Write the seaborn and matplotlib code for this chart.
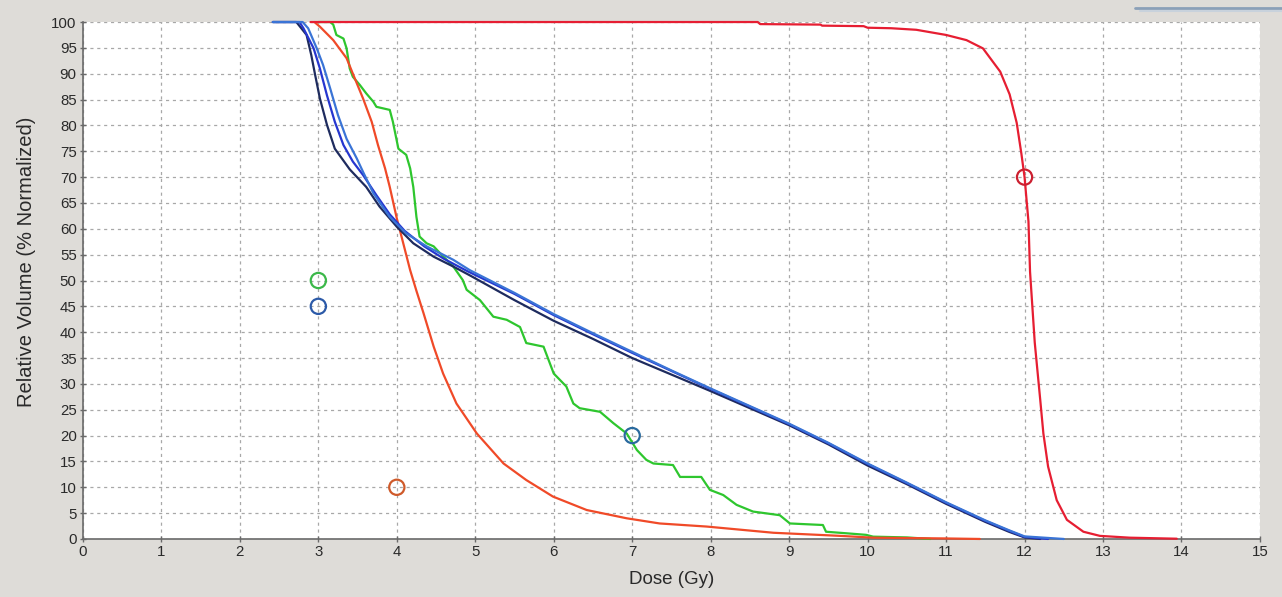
import numpy as np
import pandas as pd
import matplotlib
matplotlib.use("Agg")
import matplotlib.pyplot as plt
from matplotlib.lines import Line2D
import seaborn as sns

# Cumulative dose-volume histograms: dose (Gy) vs relative volume (%)
dose_target = [2.9, 8.6, 8.63, 9.4, 9.42, 9.95, 10.0, 10.3, 10.62, 11.0, 11.26, 11.47,
               11.69, 11.81, 11.9, 11.96, 12.0, 12.05, 12.07, 12.13, 12.2, 12.24, 12.3,
               12.41, 12.54, 12.75, 12.96, 13.34, 13.94]
vol_target = [100, 100, 99.6, 99.5, 99.3, 99.2, 98.9, 98.8, 98.5, 97.5, 96.5, 94.9,
              90.4, 86.0, 80.5, 74.5, 70.0, 61.4, 51.7, 38.0, 26.9, 20.4, 14.0,
              7.5, 3.7, 1.4, 0.6, 0.25, 0.05]

dose_orange = [2.95, 3.02, 3.19, 3.36, 3.44, 3.57, 3.68, 3.76, 3.85, 3.91, 4.0, 4.06,
               4.17, 4.25, 4.34, 4.47, 4.59, 4.76, 5.02, 5.36, 5.65, 5.99, 6.42, 6.93,
               7.35, 7.95, 8.8, 9.65, 10.07, 11.0, 11.43]
vol_orange = [100, 99.1, 96.5, 93.0, 90.0, 85.2, 80.7, 76.2, 71.7, 68.1, 62.0, 58.5,
              52.0, 48.0, 43.7, 37.2, 32.0, 26.2, 20.4, 14.6, 11.4, 8.2, 5.6, 4.0,
              3.0, 2.4, 1.2, 0.6, 0.25, 0.1, 0.0]

dose_green = [3.0, 3.15, 3.19, 3.23, 3.32, 3.36, 3.40, 3.44, 3.53, 3.61, 3.70, 3.74,
              3.91, 3.95, 4.02, 4.12, 4.17, 4.21, 4.25, 4.29, 4.38, 4.47, 4.55, 4.72,
              4.84, 4.89, 5.06, 5.23, 5.40, 5.57, 5.65, 5.87, 5.95, 6.0, 6.16, 6.25,
              6.33, 6.59, 6.76, 6.93, 7.06, 7.18, 7.27, 7.52, 7.61, 7.88, 7.99, 8.16,
              8.33, 8.54, 8.88, 9.01, 9.43, 9.47, 9.73, 9.98, 10.07, 10.5, 10.8]
vol_green = [100, 100, 99.5, 97.5, 96.8, 94.9, 91.0, 89.4, 87.8, 86.2, 84.6, 83.6,
             83.0, 80.7, 75.5, 74.3, 71.7, 68.1, 62.3, 58.5, 57.2, 56.6, 55.3, 52.7,
             50.1, 48.2, 46.2, 43.0, 42.4, 41.0, 37.9, 37.2, 34.0, 32.0, 29.5, 26.2,
             25.3, 24.6, 22.4, 20.4, 17.2, 15.3, 14.6, 14.3, 12.0, 12.0, 9.5, 8.5,
             6.6, 5.3, 4.6, 3.0, 2.7, 1.4, 1.1, 0.8, 0.45, 0.3, 0.0]

dose_navy = [2.42, 2.72, 2.85, 2.91, 2.96, 3.02, 3.11, 3.21, 3.40, 3.61, 3.78, 4.0,
             4.21, 4.47, 4.72, 4.93, 5.5, 6.0, 6.5, 7.0, 7.5, 8.0, 8.5, 9.0, 9.5,
             10.0, 10.5, 11.0, 11.5, 11.8, 12.0, 12.2]
vol_navy = [100, 100, 97.5, 93.6, 89.7, 85.2, 80.1, 75.5, 71.5, 68.1, 64.3, 60.4,
            57.2, 54.6, 52.7, 51.0, 46.2, 42.2, 38.7, 35.0, 31.8, 28.6, 25.3, 22.0, 18.3,
            14.2, 10.6, 6.8, 3.3, 1.4, 0.3, 0.0]

dose_blue = [2.42, 2.76, 2.81, 2.94, 3.02, 3.11, 3.21, 3.32, 3.44, 3.57, 3.74, 3.91,
             4.1, 4.35, 4.6, 4.9, 5.5, 6.0, 6.5, 7.0, 7.5, 8.0, 8.5, 9.0, 9.5, 10.0,
             10.5, 11.0, 11.5, 11.8, 12.0, 12.3]
vol_blue = [100, 100, 98.8, 94.9, 91.0, 85.8, 80.7, 76.2, 73.0, 70.4, 66.5, 62.8,
            59.6, 56.6, 54.2, 51.8, 47.4, 43.3, 39.6, 36.0, 32.5, 29.0, 25.6, 22.2, 18.5,
            14.5, 10.8, 7.0, 3.5, 1.6, 0.4, 0.0]

dose_light = [2.42, 2.8, 2.87, 2.98, 3.06, 3.15, 3.25, 3.36, 3.49, 3.57, 3.70, 3.91,
              4.12, 4.38, 4.72, 4.93, 5.5, 6.0, 6.5, 7.0, 7.5, 8.0, 8.5, 9.0, 9.5,
              10.0, 10.5, 11.0, 11.5, 11.8, 12.0, 12.5]
vol_light = [100, 100, 98.8, 94.9, 91.7, 87.2, 82.0, 77.4, 73.6, 71.0, 66.9, 62.3,
             59.1, 56.6, 54.0, 52.0, 47.6, 43.5, 39.8, 36.2, 32.6, 29.1, 25.7, 22.3,
             18.6, 14.6, 10.9, 7.1, 3.6, 1.7, 0.5, 0.0]

# Dose-volume constraint points (dose Gy, volume %)
constraint_dose = [3, 3, 4, 7, 12]
constraint_vol = [50, 45, 10, 20, 70]
constraint_colors = ["#3cb84a", "#2c5aa8", "#cf5a2a", "#2a6a9e", "#cc2030"]

x_ticks = list(range(0, 16))
y_ticks = list(range(0, 101, 5))

sns.set_theme(style="white")
plt.rcParams["font.family"] = ["Liberation Sans", "DejaVu Sans"]

bg = "#dedcd8"
fig = plt.figure(figsize=(12.82, 5.97), dpi=100, facecolor=bg)
ax = fig.add_axes([0.0647, 0.0972, 0.9181, 0.8659])
ax.set_facecolor("white")

curves = [
    (dose_green, vol_green, "#2ec62e"),
    (dose_orange, vol_orange, "#f04a28"),
    (dose_navy, vol_navy, "#1e2b5e"),
    (dose_blue, vol_blue, "#2636cf"),
    (dose_light, vol_light, "#3a74d6"),
    (dose_target, vol_target, "#e61e32"),
]
for d, v, c in curves:
    df = pd.DataFrame({"dose": d, "vol": v})
    sns.lineplot(data=df, x="dose", y="vol", ax=ax, color=c, linewidth=1.6,
                 sort=False, estimator=None, clip_on=False, zorder=3)

cdf = pd.DataFrame({"dose": constraint_dose, "vol": constraint_vol,
                    "c": constraint_colors})
sns.scatterplot(data=cdf, x="dose", y="vol", hue="c", palette=constraint_colors,
                hue_order=constraint_colors, s=120, marker="o",
                linewidth=1.6, legend=False, ax=ax, zorder=4, clip_on=False)
# open circles: outline in the point colour, no fill
for coll in ax.collections:
    fc = coll.get_facecolors()
    if len(fc):
        coll.set_edgecolors(fc)
        coll.set_facecolors("none")

ax.set_xlim(0, 15)
ax.set_ylim(0, 100)
ax.set_xticks(x_ticks)
ax.set_yticks(y_ticks)
ax.grid(True, color="#a8a8a8", linestyle=(0, (2.5, 3)), linewidth=0.9)
ax.set_axisbelow(True)
for side in ["top", "right"]:
    ax.spines[side].set_visible(False)
for side in ["left", "bottom"]:
    ax.spines[side].set_color("#6a6a6a")
    ax.spines[side].set_linewidth(1.2)
ax.tick_params(axis="both", direction="inout", length=5, width=1, color="#6a6a6a",
               labelsize=10.8, labelcolor="#2a2a2a", pad=2)
ax.tick_params(axis="y", left=True)
ax.tick_params(axis="x", bottom=True)
ax.set_xlabel("Dose (Gy)", fontsize=13.5, color="#2a2a2a")
ax.set_ylabel("Relative Volume (% Normalized)", fontsize=14.5, color="#2a2a2a")
ax.xaxis.set_label_coords(0.5, -0.079, transform=ax.transAxes)
ax.yaxis.set_label_coords(-0.048, 0.536, transform=ax.transAxes)
ax.xaxis.label.set_va("center")
ax.yaxis.label.set_va("center")

# panel edge at the top right of the window
fig.add_artist(Line2D([1135 / 1282, 1.0], [1 - 8 / 597, 1 - 8 / 597],
                      transform=fig.transFigure, color="#8aa0b8", linewidth=2))
fig.add_artist(Line2D([1140 / 1282, 1.0], [1 - 11 / 597, 1 - 11 / 597],
                      transform=fig.transFigure, color="#c8d2dc", linewidth=1.5))

fig.savefig("out.png", dpi=100, facecolor=bg)
